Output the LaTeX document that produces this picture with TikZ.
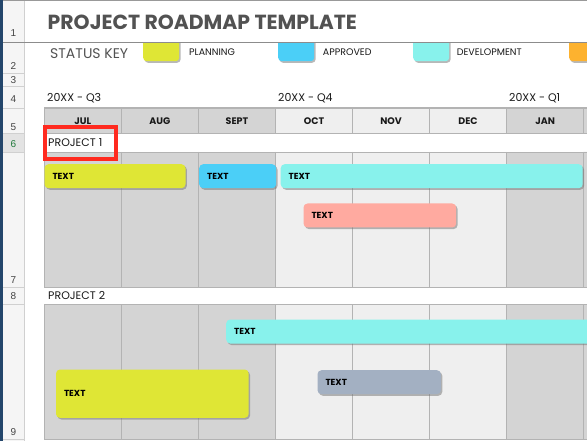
\documentclass[tikz,border=0pt]{standalone}
\usepackage{fontspec}
\setmainfont{Poppins}
\newfontfamily\sheetfont{Liberation Sans}
\usetikzlibrary{positioning, shadows}

\definecolor{planning}{HTML}{DFE635}
\definecolor{approved}{HTML}{4BCFF7}
\definecolor{develop}{HTML}{88F2EC}
\definecolor{review}{HTML}{FFAAA0}
\definecolor{onhold}{HTML}{FDB22F}
\definecolor{slate}{HTML}{A3B0C2}
\definecolor{colgray}{HTML}{D4D4D4}
\definecolor{collight}{HTML}{EFEFEF}
\definecolor{gridgray}{HTML}{B3B3B3}
\definecolor{titlegray}{HTML}{525252}
\definecolor{headbg}{HTML}{F5F5F5}
\definecolor{headsel}{HTML}{E3E3E3}
\definecolor{headline}{HTML}{D0D0D0}
\definecolor{rowgray}{HTML}{444444}
\definecolor{selgreen}{HTML}{217A3C}
\definecolor{desk}{HTML}{24466B}
\definecolor{marker}{HTML}{FF2A1F}

\begin{document}
\begin{tikzpicture}[
        x=1pt, y=-1pt,
        gridline/.style={draw=gridgray, line width=0.9pt},
        headrule/.style={draw=headline, line width=0.8pt},
        bar/.style={
            rounded corners=4pt, anchor=north west, minimum height=24pt,
            inner xsep=8pt, inner ysep=0pt, align=left, text=black,
            font=\fontsize{8.8}{10}\selectfont\bfseries,
            drop shadow={shadow xshift=1.4pt, shadow yshift=-1.6pt, opacity=.5, fill=black!55}
        },
        swatch/.style={
            rounded corners=3.5pt, anchor=north west, minimum width=36pt, minimum height=25pt, inner sep=0pt,
            drop shadow={shadow xshift=1.4pt, shadow yshift=-1.6pt, opacity=.5, fill=black!55}
        },
        keytext/.style={anchor=base west, inner sep=0pt, font=\fontsize{9.5}{11}\selectfont, text=black!90},
        month/.style={anchor=base, inner sep=0pt, font=\fontsize{9.5}{11}\selectfont\bfseries, text=black!90},
        quarter/.style={anchor=base west, inner sep=0pt, font=\fontsize{11}{13}\selectfont, text=black!90},
        project/.style={anchor=base west, inner sep=0pt, font=\fontsize{11}{13}\selectfont, text=black!90},
        rownum/.style={inner sep=0pt, font=\sheetfont\fontsize{10}{12}\selectfont, text=rowgray}
    ]
    \def\xo{44.3}
    \def\colw{77.05}
    \useasboundingbox (0,0) rectangle (587,441);
    \fill[white] (0,0) rectangle (587,441);

    % sheet row headers
    \fill[desk] (0,0) rectangle (3,441);
    \fill[headbg] (3,0) rectangle (24,441);
    \fill[headsel] (3,133) rectangle (24,152);
    \foreach \y in {73,86,108,133,152,287,304,439}
        \draw[headrule] (3,\y) -- (24,\y);
    \draw[headrule] (24,0) -- (24,441);
    \draw[draw=black!40, line width=0.9pt] (3,0.5) -- (587,0.5);
    \draw[draw=black!45, line width=0.9pt] (3,42.5) -- (587,42.5);
    \foreach \n/\y in {1/33,2/66,3/80,4/99,5/127,7/280,8/296,9/432}
        \node[rownum] (r\n) at (13.5,\y) {\n};
    \node[rownum, text=selgreen] (r6) at (13.5,144) {6};

    % title and status key
    \node[anchor=base west, inner sep=0pt, text=titlegray, font=\fontsize{20.4}{24}\selectfont\bfseries] (title) at (47.5,29.4) {PROJECT ROADMAP TEMPLATE};
    \node[anchor=base west, inner sep=0pt, text=titlegray, font=\fontsize{14}{16}\selectfont] (statuskey) at (50,58.4) {STATUS KEY};
    \begin{scope}
        \clip (0,43.2) rectangle (587,80);
        \node[swatch, fill=planning] (keyplan) at (143,36) {};
        \node[swatch, fill=approved] (keyappr) at (278,36) {};
        \node[swatch, fill=develop] (keydev) at (413,36) {};
        \node[swatch, fill=onhold] (keyhold) at (569,36) {};
    \end{scope}
    \node[keytext] (keyplant) at (189,55.6) {PLANNING};
    \node[keytext] (keyapprt) at (322.7,55.6) {APPROVED};
    \node[keytext] (keydevt) at (456.7,55.6) {DEVELOPMENT};

    % quarters and months
    \node[quarter] (q3) at (47,101.7) {20XX - Q3};
    \node[quarter] (q4) at (278,101.7) {20XX - Q4};
    \node[quarter] (q1) at (509,101.7) {20XX - Q1};
    \foreach \m/\c [count=\i from 0] in {JUL/colgray,AUG/colgray,SEPT/colgray,OCT/collight,NOV/collight,DEC/collight,JAN/colgray} {
        \pgfmathsetmacro\xa{\xo+\i*\colw}
        \fill[\c] (\xa,108) rectangle ++(\colw,25);
        \fill[\c] (\xa,152) rectangle ++(\colw,135);
        \fill[\c] (\xa,304) rectangle ++(\colw,135);
        \node[month] (m\i) at (\xa+\colw/2,124.3) {\m};
    }
    \pgfmathsetmacro\xa{\xo+7*\colw}
    \fill[colgray] (\xa,108) rectangle ++(\colw,25) (\xa,152) rectangle ++(\colw,135) (\xa,304) rectangle ++(\colw,135);
    \foreach \i in {0,...,8} {
        \pgfmathsetmacro\xa{\xo+\i*\colw}
        \draw[gridline] (\xa,108) -- ++(0,25) (\xa,152) -- ++(0,135) (\xa,304) -- ++(0,135);
    }
    \foreach \y in {133,152,287,304,439}
        \draw[gridline] (\xo,\y) -- (587,\y);
    \draw[gridline, line width=1.7pt] (\xo,108) -- (587,108);

    % project 1
    \node[project] (proj1) at (48,146.7) {PROJECT 1};
    \draw[marker, line width=4pt] (44.7,127) rectangle (116.3,159);
    \node[bar, fill=planning, text width=125pt] (p1plan) at (44.3,164) {TEXT};
    \node[bar, fill=approved, text width=61pt] (p1appr) at (199,164) {TEXT};
    \node[bar, fill=develop, text width=286pt] (p1dev) at (280.5,164) {TEXT};
    \node[bar, fill=review, text width=136.7pt] (p1rev) at (303.3,203.3) {TEXT};

    % project 2
    \node[project] (proj2) at (48,299.3) {PROJECT 2};
    \node[bar, fill=develop, text width=384pt] (p2dev) at (226,319.3) {TEXT};
    \node[bar, fill=planning, text width=176.7pt, minimum height=48.4pt] (p2plan) at (55.8,369.3) {TEXT};
    \node[bar, fill=slate, text width=107.4pt] (p2rev) at (317.3,370) {TEXT};
\end{tikzpicture}
\end{document}
